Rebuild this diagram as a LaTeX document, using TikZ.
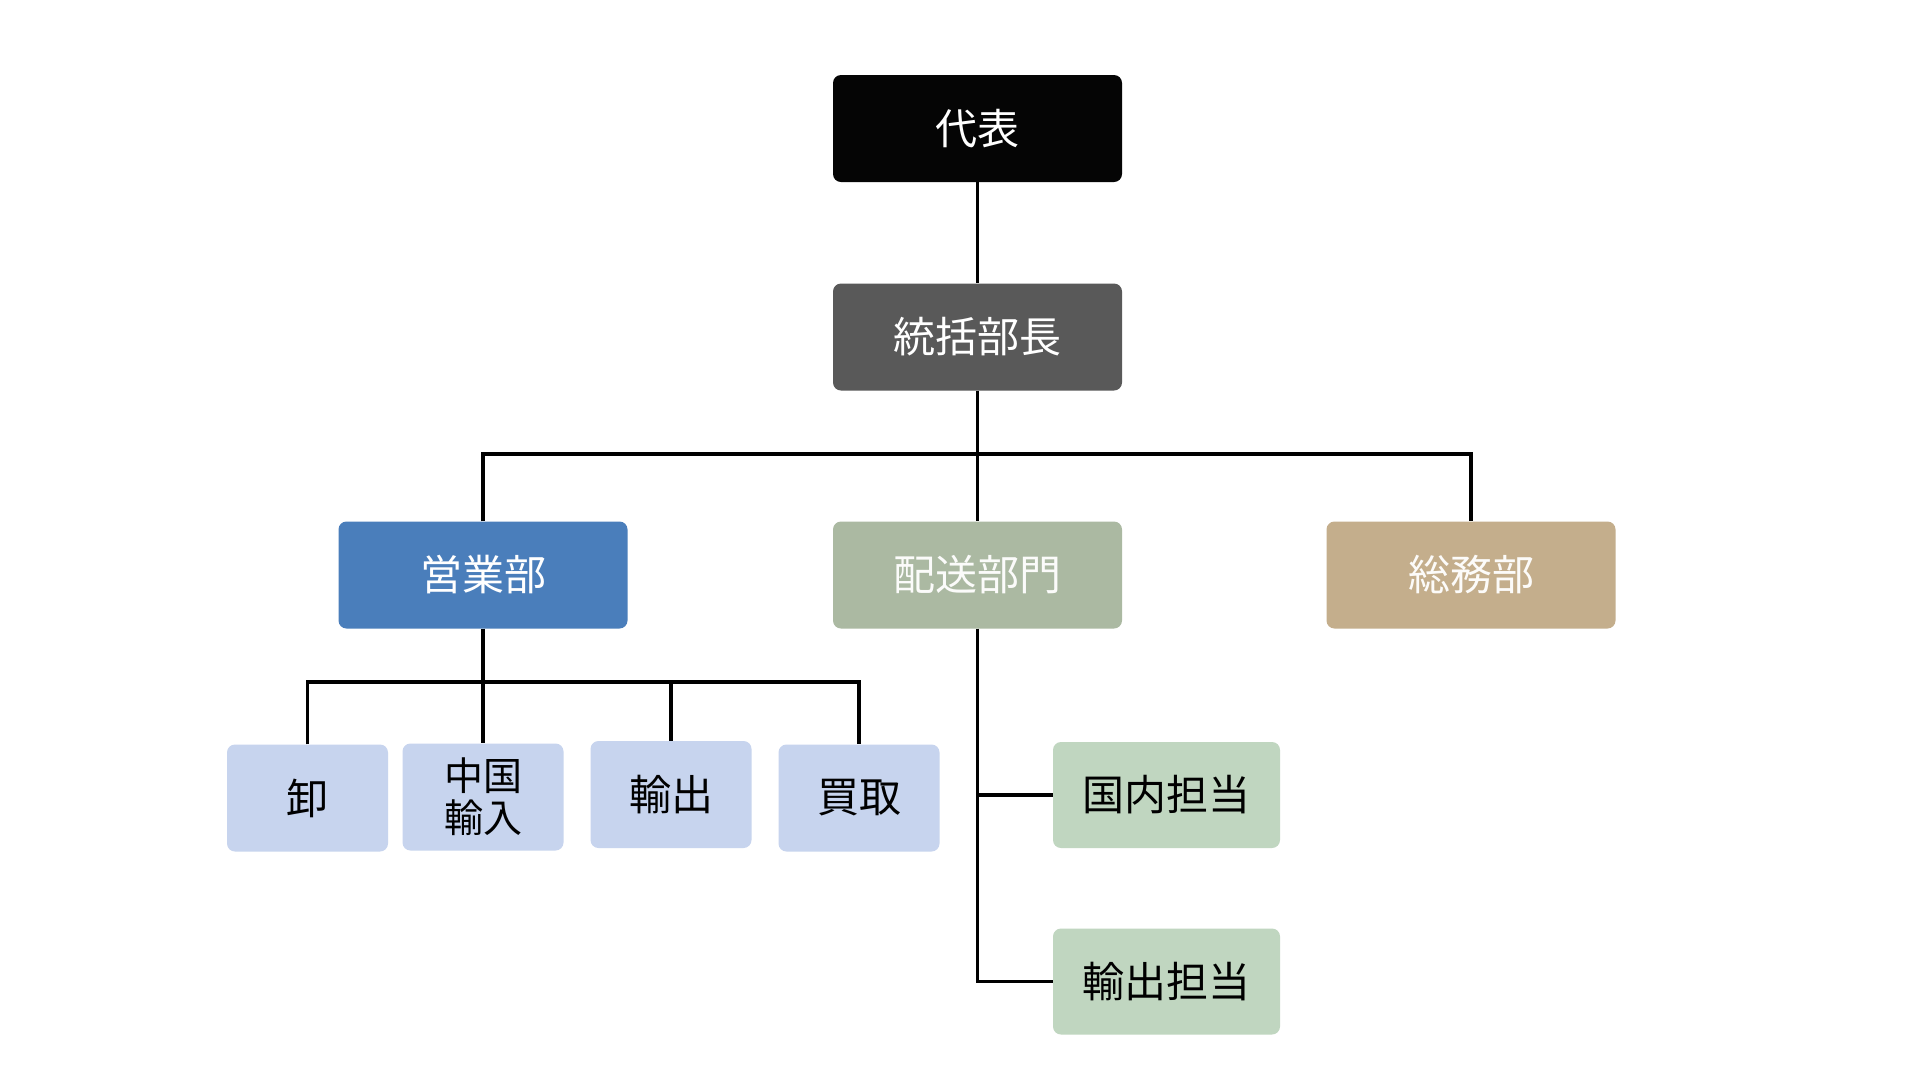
\documentclass[tikz,border=0pt]{standalone}
\usepackage{fontspec}
\setmainfont{Noto Sans CJK JP}
\definecolor{cblack}{HTML}{050505}
\definecolor{cgray}{HTML}{595959}
\definecolor{cblue}{HTML}{4A7EBB}
\definecolor{csage}{HTML}{ABB9A2}
\definecolor{ctan}{HTML}{C4AE8C}
\definecolor{clblue}{HTML}{C7D4EE}
\definecolor{clgreen}{HTML}{C0D6C0}
\begin{document}
\begin{tikzpicture}[x=1pt,y=-1pt,
  box/.style={rounded corners=8pt, inner sep=0pt, align=center,
    font=\fontsize{42}{46}\selectfont},
  big/.style={box, minimum width=289pt, minimum height=107pt, text=white},
  small/.style={box, minimum width=161pt, minimum height=107pt, fill=clblue, text=black},
  green/.style={box, minimum width=227pt, minimum height=106pt, fill=clgreen, text=black},
  conn/.style={line width=3.8pt, black}]
\useasboundingbox (0,0) rectangle (1920,1080);
\fill[white] (0,0) rectangle (1920,1080);
% top
\node[big, fill=cblack] (daihyo) at (977.5,128.5) {代表};
\node[big, fill=cgray] (tokatsu) at (977.5,337) {統括部長};
% departments
\node[big, fill=cblue] (eigyo) at (483,575) {営業部};
\node[big, fill=csage, text=white!95!csage] (haiso) at (977.5,575) {配送部門};
\node[big, fill=ctan, text=white!95!ctan] (somu) at (1471,575) {総務部};
% sales sub
\node[small] (oroshi) at (307.5,798) {卸};
\node[small, font=\fontsize{39}{42}\selectfont] (chugoku) at (483,797) {中国\\輸入};
\node[small] (yushutsu) at (671,794.5) {輸出};
\node[small] (kaitori) at (859,798) {買取};
% delivery sub
\node[green] (kokunai) at (1166.5,795) {国内担当};
\node[green] (ytanto) at (1166.5,981.5) {輸出担当};
% connectors
\coordinate (bus) at (977.5,454);
\coordinate (bus2) at (483,682);
\draw[conn] (daihyo.south) -- (tokatsu.north);
\draw[conn] (tokatsu.south) -- (haiso.north);
\draw[conn] (eigyo.north) |- (bus) -| (somu.north);
\draw[conn] (eigyo.south) -- (chugoku.north);
\draw[conn] (oroshi.north) |- (bus2) -| (kaitori.north);
\draw[conn] (yushutsu.north) -- (yushutsu.north |- bus2);
\draw[conn] (haiso.south) |- (ytanto.west);
\draw[conn] (kokunai.west) -- (kokunai.west -| haiso.south);
\end{tikzpicture}
\end{document}
